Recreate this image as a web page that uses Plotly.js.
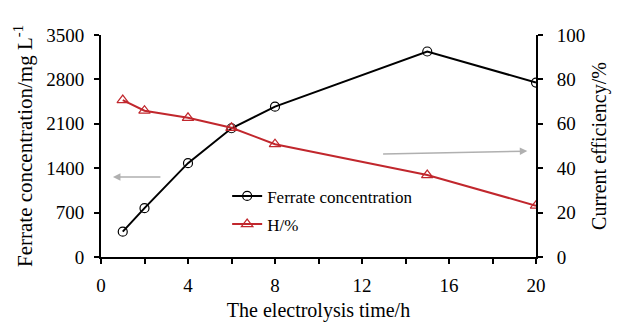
<!DOCTYPE html>
<html><head><meta charset="utf-8">
<script src="https://cdn.plot.ly/plotly-3.0.1.min.js"></script>
<style>html,body{margin:0;padding:0;background:#fff}</style>
</head><body><div id="c" style="width:617px;height:324px"></div>
<script>
const timeH = [1, 2, 4, 6, 8, 15, 20];
const ferrate = [400, 770, 1480, 2030, 2370, 3240, 2750];
const efficiency = [70.7, 65.9, 62.7, 58.2, 50.8, 36.9, 23.1];
const xTicks = [0, 4, 8, 12, 16, 20];
const yLeftTicks = [0, 700, 1400, 2100, 2800, 3500];
const yRightTicks = [0, 20, 40, 60, 80, 100];

const font = "Liberation Serif";
const traces = [
  {x: timeH, y: ferrate, name: "Ferrate concentration", mode: "lines+markers", legendgroup: "a",
   line: {color: "#000", width: 2}, marker: {symbol: "circle-open", size: 9, color: "#000", line: {width: 1.2}}},
  {x: timeH, y: efficiency, name: "H/%", yaxis: "y2", mode: "lines+markers", legendgroup: "b",
   line: {color: "#c1272d", width: 2}, marker: {symbol: "triangle-up-open", size: 10, color: "#c1272d", line: {width: 1.2}}}
];
const axBase = {showgrid: false, zeroline: false, showline: true, linecolor: "#000", linewidth: 2,
  ticks: "outside", ticklen: 5, tickwidth: 2, tickcolor: "#000", tickfont: {family: font, size: 19, color: "#000"}};
const titleFont = {family: font, size: 20, color: "#000"};
const layout = {
  margin: {l: 101, r: 81, t: 35, b: 67},
  paper_bgcolor: "#fff", plot_bgcolor: "#fff",
  font: {family: font, color: "#000"},
  showlegend: true,
  legend: {x: 0.29, y: 0.21, xanchor: "left", yanchor: "middle", traceorder: "grouped", tracegroupgap: 3,
    font: {family: font, size: 17, color: "#000"}, bgcolor: "rgba(0,0,0,0)"},
  xaxis: Object.assign({}, axBase, {range: [0, 20], tickmode: "array", tickvals: [0,2,4,6,8,10,12,14,16,18,20],
    ticktext: [0,2,4,6,8,10,12,14,16,18,20].map(v => xTicks.includes(v) ? String(v) : ""),
    ticklabelstandoff: 5,
    title: {text: "The electrolysis time/h", font: titleFont, standoff: 8}}),
  yaxis: Object.assign({}, axBase, {range: [0, 3500], tickvals: yLeftTicks, ticklabelstandoff: 6,
    title: {text: "Ferrate concentration/mg L<sup>-1</sup>", font: {family: font, size: 21, color: "#000"}, standoff: 8}}),
  yaxis2: Object.assign({}, axBase, {range: [0, 100], tickvals: yRightTicks, overlaying: "y", side: "right",
    ticklabelstandoff: 10,
    title: {text: "Current efficiency/%", font: titleFont, standoff: 8}}),
  annotations: [
    {xref: "x", yref: "y", x: 0.55, y: 1260, ax: 2.8, ay: 1260, axref: "x", ayref: "y", text: "", showarrow: true,
     arrowhead: 2, arrowsize: 1, arrowwidth: 1.5, arrowcolor: "#b0b0b0"},
    {xref: "x", yref: "y2", x: 19.6, y: 47.7, ax: 12.9, ay: 46.4, axref: "x", ayref: "y2", text: "", showarrow: true,
     arrowhead: 2, arrowsize: 1, arrowwidth: 1.5, arrowcolor: "#b0b0b0"}
  ]
};
Plotly.newPlot("c", traces, layout, {displayModeBar: false, staticPlot: true});
</script></body></html>
